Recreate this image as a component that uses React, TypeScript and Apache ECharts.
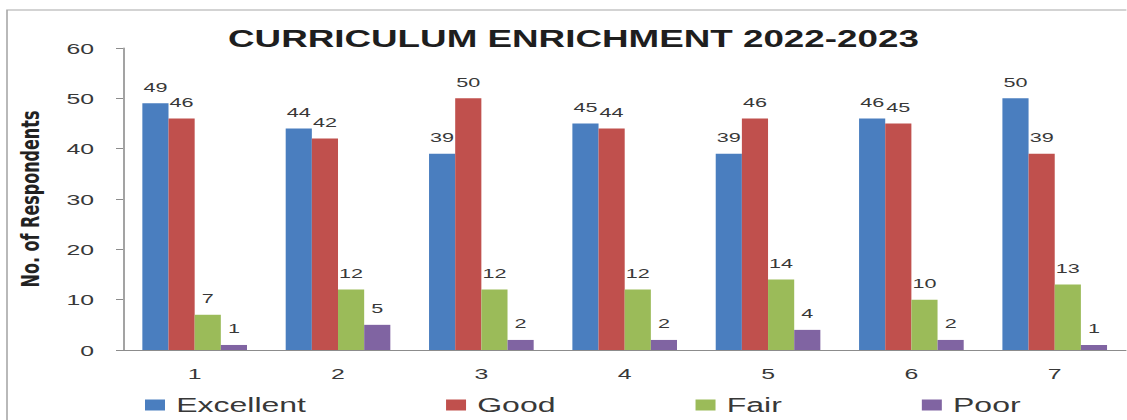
import React, { useEffect, useRef } from "react";
import * as echarts from "echarts";

const categories = ["1", "2", "3", "4", "5", "6", "7"];
const seriesNames = ["Excellent", "Good", "Fair", "Poor"];
const excellent = [49, 44, 39, 45, 39, 46, 50];
const good = [46, 42, 50, 44, 46, 45, 39];
const fair = [7, 12, 12, 12, 14, 10, 13];
const poor = [1, 5, 2, 2, 4, 2, 1];
const colors = ["#4a7ebf", "#c0504d", "#9bbb59", "#8064a2"];

const S = 1.6; // horizontal stretch of the reference picture
const W = 1127 / S;
const px = (x: number) => x / S;
const FONT = "Liberation Sans";

export default function App() {
  const ref = useRef<HTMLDivElement>(null);
  useEffect(() => {
    if (!ref.current) return;
    const chart = echarts.init(ref.current, null, { renderer: "svg" });
    const values = [excellent, good, fair, poor];
    chart.setOption({
      animation: false,
      backgroundColor: "#ffffff",
      color: colors,
      title: {
        text: "CURRICULUM ENRICHMENT 2022-2023",
        left: px(228),
        top: 28,
        padding: 0,
        textStyle: {
          fontFamily: FONT,
          fontWeight: "bold",
          fontSize: 23,
          color: "#1e1e1e",
        },
      },
      graphic: [
        {
          type: "rect",
          shape: { x: px(7), y: 10, width: 800, height: 500 },
          style: { fill: "none", stroke: "#a8a8a8", lineWidth: 1 },
          silent: true,
        },
      ],
      legend: {
        data: seriesNames,
        left: px(145),
        top: 395,
        padding: 0,
        icon: "rect",
        itemWidth: px(20),
        itemHeight: 11,
        itemGap: px(140),
        textStyle: {
          fontFamily: FONT,
          fontSize: 20,
          color: "#383838",
          padding: [0, 0, 0, 2],
        },
      },
      grid: { left: px(123), top: 48, width: px(1010), height: 302 },
      xAxis: {
        type: "category",
        data: categories,
        axisLine: { lineStyle: { color: "#8c8c8c" } },
        axisTick: { length: 4, lineStyle: { color: "#8c8c8c" } },
        axisLabel: {
          margin: 15,
          fontFamily: FONT,
          fontSize: 15.5,
          color: "#383838",
        },
      },
      yAxis: {
        type: "value",
        min: 0,
        max: 60,
        interval: 10,
        name: "No. of Respondents",
        nameLocation: "middle",
        nameGap: px(80),
        nameTextStyle: {
          fontFamily: "DejaVu Sans",
          fontWeight: "bold",
          fontSize: 16,
          color: "#222222",
        },
        axisLine: { show: true, lineStyle: { color: "#8c8c8c" } },
        axisTick: { show: true, length: px(7), lineStyle: { color: "#8c8c8c" } },
        splitLine: { show: false },
        axisLabel: {
          margin: px(29),
          fontFamily: FONT,
          fontSize: 15.5,
          color: "#383838",
        },
      },
      series: seriesNames.map((name, i) => ({
        name,
        type: "bar",
        data: values[i],
        barGap: "0%",
        barCategoryGap: "27%",
        itemStyle: { color: colors[i] },
        label: {
          show: true,
          position: "top",
          distance: 9,
          fontFamily: FONT,
          fontSize: 13.5,
          color: "#383838",
        },
      })),
    });
    return () => chart.dispose();
  }, []);
  return (
    <div
      ref={ref}
      style={{
        position: "fixed",
        left: 0,
        top: 0,
        width: W,
        height: 420,
        transform: `scaleX(${S})`,
        transformOrigin: "0 0",
        background: "#fff",
      }}
    />
  );
}
